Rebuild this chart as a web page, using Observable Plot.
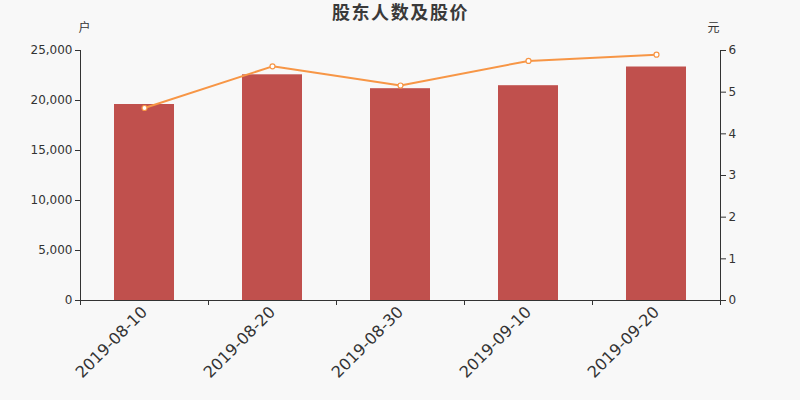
<!DOCTYPE html>
<html><head><meta charset="utf-8">
<script src="https://cdn.jsdelivr.net/npm/d3@7"></script>
<script src="https://cdn.jsdelivr.net/npm/@observablehq/plot@0.6"></script>
<style>
html,body{margin:0;padding:0;background:#f8f8f8;}
#chart{width:800px;height:400px;}
</style></head>
<body><div id="chart"></div>
<script>
const dates = ["2019-08-10","2019-08-20","2019-08-30","2019-09-10","2019-09-20"];
const holders = [19600, 22570, 21180, 21480, 23350];
const prices = [4.62, 5.62, 5.16, 5.75, 5.90];
const holderTicks = [0, 5000, 10000, 15000, 20000, 25000];
const priceTicks = [0, 1, 2, 3, 4, 5, 6];
const title = "股东人数及股价";
const leftUnit = "户";
const rightUnit = "元";

const yMax = 25000, pMax = 6, k = yMax / pMax;
const rows = dates.map((d, i) => ({date: d, holders: holders[i], price: prices[i], pScaled: prices[i] * k}));
const font = "'DejaVu Sans','Noto Sans CJK SC',sans-serif";
const ink = "#333";

const chart = Plot.plot({
  width: 800, height: 400,
  marginLeft: 80, marginRight: 80, marginTop: 50, marginBottom: 100,
  style: {background: "#f8f8f8", fontFamily: font, color: ink},
  x: {domain: dates, type: "band", paddingInner: 0.53, paddingOuter: 0.265},
  y: {domain: [0, yMax]},
  marks: [
    Plot.barY(rows, {x: "date", y: "holders", fill: "#c0504d"}),
    Plot.ruleY([0], {stroke: ink, strokeWidth: 1}),
    Plot.frame({anchor: "left", stroke: ink}),
    Plot.frame({anchor: "right", stroke: ink}),
    Plot.axisY(holderTicks, {anchor: "left", tickSize: 5, tickPadding: 3, fontSize: 12, tickFormat: d3.format(","), label: null, stroke: ink, fill: ink}),
    Plot.axisY(priceTicks.map(p => p * k), {anchor: "right", tickSize: 5, tickPadding: 3, fontSize: 12, tickFormat: d => String(Math.round(d / k)), label: null, stroke: ink, fill: ink}),
    Plot.axisX({tickSize: 0, tickPadding: 9, tickRotate: -45, fontSize: 16, label: null, fill: ink}),
    Plot.axisX(dates, {text: null, tickSize: 5, dx: -64, label: null, stroke: ink}),
    Plot.axisX([dates[dates.length - 1]], {text: null, tickSize: 5, dx: 64, label: null, stroke: ink}),
    Plot.line(rows, {x: "date", y: "pScaled", stroke: "#f79646", strokeWidth: 2}),
    Plot.dot(rows, {x: "date", y: "pScaled", r: 2.5, fill: "#fff", stroke: "#f79646", strokeWidth: 1.2}),
    Plot.text([title], {frameAnchor: "top", lineAnchor: "middle", dy: -37, fontSize: 18, fontWeight: 600, letterSpacing: "1.6px", fill: "#3a3a3a", text: d => d}),
    Plot.text([leftUnit], {frameAnchor: "top-left", lineAnchor: "middle", dy: -22, dx: -2, fontSize: 12, fill: ink, text: d => d}),
    Plot.text([rightUnit], {frameAnchor: "top-right", lineAnchor: "middle", dy: -22, dx: -1, fontSize: 12, fill: ink, text: d => d})
  ]
});
chart.querySelectorAll("text").forEach(t => { if (t.textContent === title) t.style.letterSpacing = "1.6px"; });
document.getElementById("chart").appendChild(chart);
</script></body></html>
